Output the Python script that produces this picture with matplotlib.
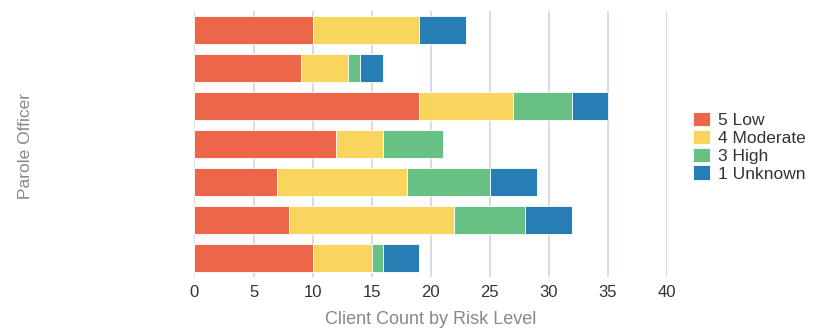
import matplotlib
matplotlib.use('Agg')
import matplotlib.pyplot as plt
import numpy as np

plt.rcParams['font.family'] = ['Liberation Sans', 'DejaVu Sans']

# one row per parole officer, top to bottom
officers = ['A', 'B', 'C', 'D', 'E', 'F', 'G']
low = [10, 9, 19, 12, 7, 8, 10]
moderate = [9, 4, 8, 4, 11, 14, 5]
high = [0, 1, 5, 5, 7, 6, 1]
unknown = [4, 2, 3, 0, 4, 4, 3]

series_names = ['5 Low', '4 Moderate', '3 High', '1 Unknown']
series_colors = ['#EE6649', '#F9D55E', '#68C184', '#267EB4']
xticks = [0, 5, 10, 15, 20, 25, 30, 35, 40]

fig = plt.figure(figsize=(8.13, 3.31), dpi=100)
ax = fig.add_axes([0.2392, 0.1631, 0.5812, 0.8037])

ypos = np.arange(len(officers))
left = np.zeros(len(officers))
for vals, name, col in zip([low, moderate, high, unknown], series_names, series_colors):
    ax.barh(ypos, vals, left=left, height=0.74, color=col, label=name,
            edgecolor='white', linewidth=0.6, zorder=3)
    left += np.array(vals)

ax.set_ylim(len(officers) - 0.5, -0.5)
ax.set_xlim(0, 40)
ax.set_xticks(xticks)
ax.set_yticks([])
ax.grid(axis='x', color='#CFD7E1', linewidth=1.2, zorder=0)
for s in ax.spines.values():
    s.set_visible(False)
ax.tick_params(axis='x', length=0, pad=6, labelsize=12, labelcolor='#333333')

ax.set_xlabel('Client Count by Risk Level', fontsize=13, color='#888888', labelpad=8)
fig.text(0.031, 0.56, 'Parole Officer', rotation=90, fontsize=12.5, color='#888888',
         ha='center', va='center')

leg = ax.legend(loc='center left', bbox_to_anchor=(1.04, 0.49), frameon=False,
                fontsize=12.5, handlelength=1.0, handleheight=0.9, handletextpad=0.45,
                labelspacing=0.1, borderaxespad=0)
for t in leg.get_texts():
    t.set_color('#333333')

fig.savefig('out.png', dpi=100)
